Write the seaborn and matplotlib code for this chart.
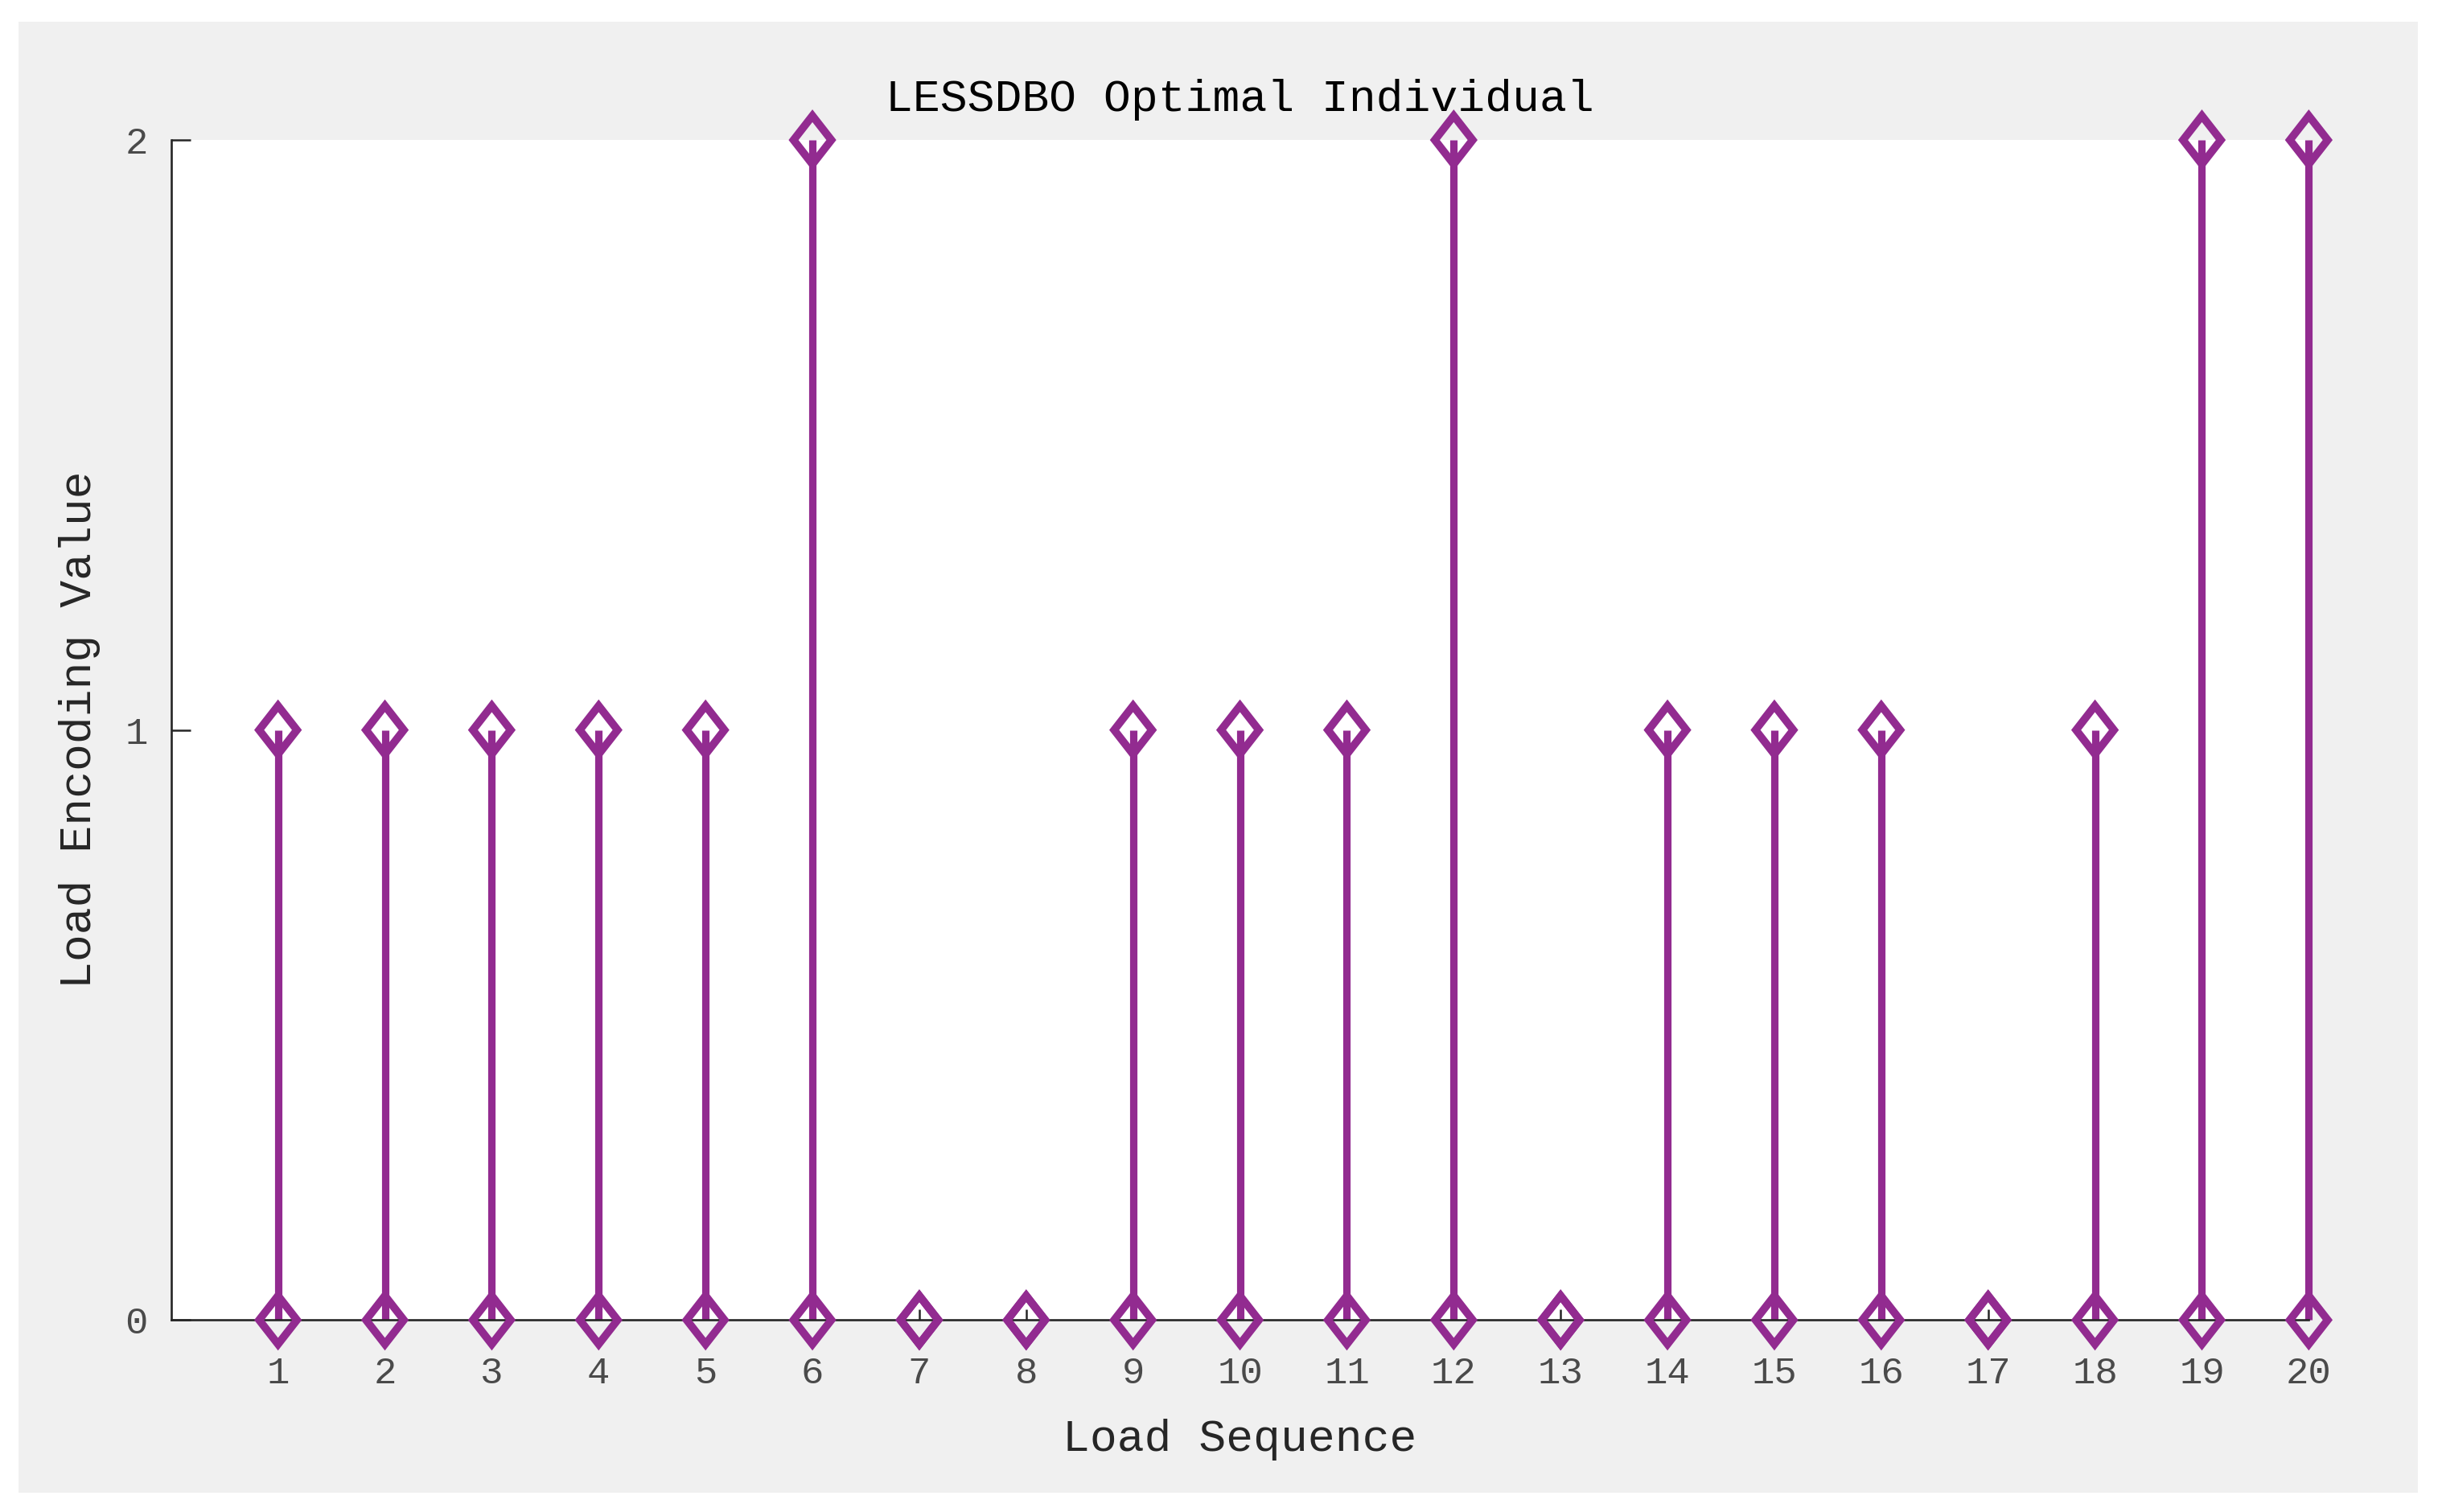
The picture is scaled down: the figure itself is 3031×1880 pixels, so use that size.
import numpy as np
import pandas as pd
import matplotlib.pyplot as plt
from matplotlib.patches import Rectangle
from matplotlib.path import Path
import seaborn as sns

# 负荷序列及其编码值
load_seq = list(range(1, 21))
load_code = [1, 1, 1, 1, 1, 2, 0, 0, 1, 1, 1, 2, 0, 1, 1, 1, 0, 1, 2, 2]

df = pd.DataFrame({'seq': load_seq, 'code': load_code})
df['base'] = 0

purple = '#922b90'
ink = '#262626'

sns.set_style('ticks')
plt.rcParams['font.family'] = ['Liberation Mono', 'DejaVu Sans Mono']

# 菱形标记(宽略小于高)
diamond = Path([(0, 1), (0.78, 0), (0, -1), (-0.78, 0), (0, 1)],
               [Path.MOVETO, Path.LINETO, Path.LINETO, Path.LINETO, Path.CLOSEPOLY])

fig = plt.figure(figsize=(15.155, 9.4), dpi=200)
fig.patch.set_facecolor('white')
fig.patches.append(Rectangle((0.0076, 0.0128), 0.9842, 0.9728, transform=fig.transFigure,
                             fc='#f0f0f0', ec='none', zorder=-10))
ax = fig.add_axes([0.0702, 0.127, 0.8768, 0.7804])
ax.set_facecolor('white')

ax.vlines(df['seq'], 0, df['code'], color=purple, lw=3.3, zorder=2, clip_on=False)
mk = dict(marker=diamond, s=470, facecolors='none', edgecolor=purple, linewidth=3.5,
          clip_on=False, zorder=3, legend=False, ax=ax)
sns.scatterplot(data=df, x='seq', y='code', **mk)
sns.scatterplot(data=df, x='seq', y='base', **mk)
for c in ax.collections[1:]:
    c.set_joinstyle('miter')

ax.set_xlim(0, 20)
ax.set_ylim(0, 2)
ax.set_xticks(load_seq)
ax.set_yticks([0, 1, 2])
sns.despine(ax=ax)
for s in ['left', 'bottom']:
    ax.spines[s].set_color(ink)
    ax.spines[s].set_linewidth(0.95)

ax.tick_params(axis='x', direction='in', length=4.7, width=0.9, color=ink,
               pad=16, labelsize=17, labelcolor='#4a4a4a')
ax.tick_params(axis='y', direction='in', length=8.6, width=0.9, color=ink,
               pad=10.5, labelsize=17, labelcolor='#4a4a4a')

ax.set_title('LESSDBO Optimal Individual', fontsize=20.3, color='black', pad=13)
ax.set_xlabel('Load Sequence', fontsize=20.3, color=ink)
ax.set_ylabel('Load Encoding Value', fontsize=20.3, color=ink)
ax.xaxis.set_label_coords(0.5, -0.111)
ax.xaxis.label.set_va('baseline')
ax.yaxis.set_label_coords(-0.0376, 0.5)
ax.yaxis.label.set_va('baseline')

fig.savefig('out.png', dpi=200)
